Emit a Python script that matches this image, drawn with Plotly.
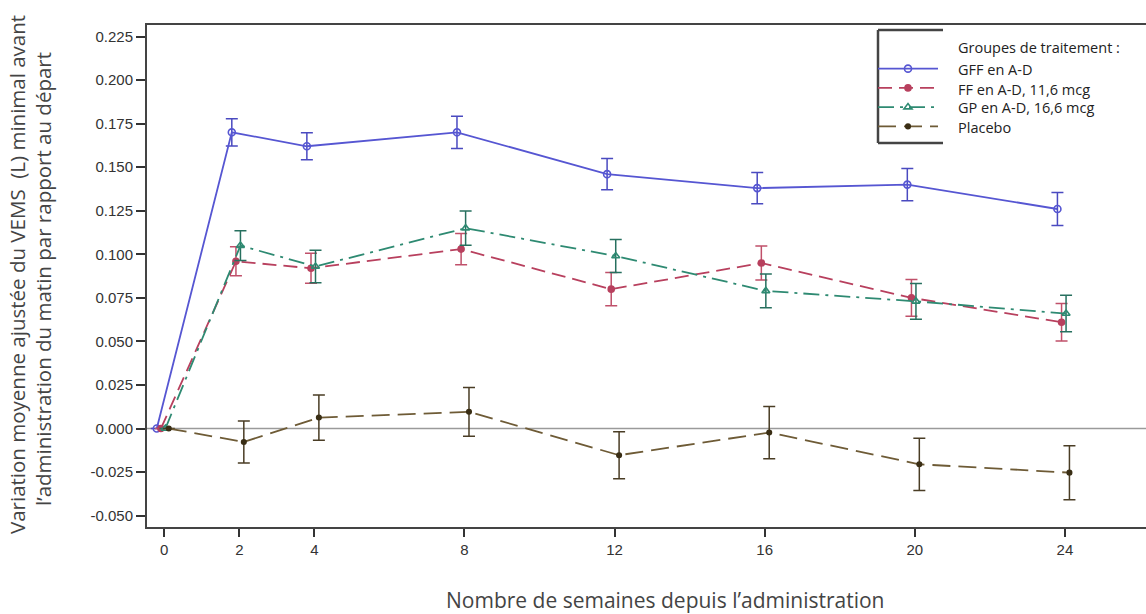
import plotly.graph_objects as go

# ---------------- data ----------------
weeks = [0, 2, 4, 8, 12, 16, 20, 24]
x_ticks = [0, 2, 4, 8, 12, 16, 20, 24]
y_ticks = [0.225, 0.200, 0.175, 0.150, 0.125, 0.100, 0.075, 0.050, 0.025, 0.000, -0.025, -0.050]

series_names = ["GFF en A-D", "FF en A-D, 11,6 mcg", "GP en A-D, 16,6 mcg", "Placebo"]
gff = [0.0, 0.170, 0.162, 0.170, 0.146, 0.138, 0.140, 0.126]
gff_err = [0.0, 0.0078, 0.0078, 0.0093, 0.0090, 0.0090, 0.0093, 0.0095]
ff = [0.0, 0.096, 0.092, 0.103, 0.080, 0.095, 0.075, 0.061]
ff_err = [0.0, 0.0083, 0.0086, 0.0090, 0.0095, 0.0097, 0.0105, 0.0107]
gp = [0.0, 0.105, 0.093, 0.115, 0.099, 0.079, 0.073, 0.066]
gp_err = [0.0, 0.0085, 0.0093, 0.0098, 0.0095, 0.0097, 0.0103, 0.0105]
placebo = [0.0, -0.0077, 0.0063, 0.0096, -0.0153, -0.0023, -0.0205, -0.0253]
placebo_err = [0.0, 0.0120, 0.0130, 0.0140, 0.0135, 0.0150, 0.0150, 0.0155]

legend_title = "Groupes de traitement :"
x_title = "Nombre de semaines depuis l\u2019administration"
y_title_1 = "Variation moyenne ajustée du VEMS  (L) minimal avant"
y_title_2 = "l\u2019administration du matin par rapport au départ"

# ---------------- layout geometry (pixels) ----------------
W, H = 1146, 614
L, R, T, B = 147, 0, 25, 87
PW, PH = W - L - R, H - T - B


def px(xp):
    return (xp - L) / PW


def py(yp):
    return (H - B - yp) / PH


styles = [
    dict(name=series_names[0], y=gff, e=gff_err, off=-0.20, color="#5656d2", ecolor="#4a4ac0",
         dash="solid", symbol="circle-open", size=7),
    dict(name=series_names[1], y=ff, e=ff_err, off=-0.09, color="#b8405e", ecolor="#c0506a",
         dash="14px,7px", symbol="circle", size=6),
    dict(name=series_names[2], y=gp, e=gp_err, off=0.03, color="#2e8a72", ecolor="#27705f",
         dash="16px,6px,3px,6px", symbol="triangle-up-open", size=7),
    dict(name=series_names[3], y=placebo, e=placebo_err, off=0.12, color="#6e5b36", ecolor="#4a3d25",
         dash="18px,8px", symbol="circle", size=4.5, mcolor="#3a2e15"),
]

fig = go.Figure()

for s in styles:
    mcol = s.get("mcolor", s["color"])
    fig.add_trace(go.Scatter(
        x=[w + s["off"] for w in weeks],
        y=s["y"],
        name="\u00a0",  # label is drawn as an annotation next to the legend sample
        hovertext=s["name"],
        mode="lines+markers",
        line=dict(color=s["color"], width=1.8, dash=s["dash"]),
        marker=dict(color=mcol, symbol=s["symbol"], size=s["size"],
                    line=dict(color=mcol, width=1.6)),
        error_y=dict(type="data", array=s["e"], visible=True, color=s["ecolor"],
                     thickness=1.5, width=6),
    ))

axis_font = dict(family="Liberation Sans, Arial, sans-serif", size=15, color="#333333")
legend_font = dict(family="Open Sans, sans-serif", size=14.5, color="#222222")

fig.update_layout(
    width=W, height=H,
    margin=dict(l=L, r=R, t=T, b=B),
    paper_bgcolor="white", plot_bgcolor="white",
    showlegend=True,
    legend=dict(
        x=px(873), y=py(54), xanchor="left", yanchor="top",
        bgcolor="rgba(0,0,0,0)", borderwidth=0,
        font=dict(family="Open Sans, sans-serif", size=12.5, color="#222222"),
        itemwidth=60, tracegroupgap=0,
    ),
    xaxis=dict(
        range=[-0.46, 26.16], tickmode="array", tickvals=x_ticks,
        ticktext=[str(v) for v in x_ticks],
        showgrid=False, zeroline=False, showline=True, linecolor="#444444", linewidth=2,
        mirror=True, ticks="outside", ticklen=8, tickwidth=1.5, tickcolor="#333333",
        tickfont=axis_font,
    ),
    yaxis=dict(
        range=[-0.0565, 0.2316], tickmode="array", tickvals=y_ticks,
        ticktext=[f"{v:.3f}" for v in y_ticks],
        showgrid=False, zeroline=False, showline=True, linecolor="#444444", linewidth=2,
        ticks="outside", ticklen=9, tickwidth=1.5, tickcolor="#333333",
        tickfont=axis_font,
    ),
)

# zero reference line
fig.add_shape(type="line", xref="paper", yref="y", x0=0, x1=1, y0=0, y1=0,
              line=dict(color="#9a9a9a", width=1.5), layer="below")

# legend bracket frame
frame = dict(color="#444444", width=2.5)
fig.add_shape(type="line", xref="paper", yref="paper", x0=px(878), x1=px(878), y0=py(30), y1=py(143), line=frame)
fig.add_shape(type="line", xref="paper", yref="paper", x0=px(878), x1=px(943), y0=py(30), y1=py(30), line=frame)
fig.add_shape(type="line", xref="paper", yref="paper", x0=px(878), x1=px(943), y0=py(143), y1=py(143), line=frame)

# legend title and entry labels
legend_rows_y = [48, 69, 89, 108, 127]
for label, yrow in zip([legend_title] + series_names, legend_rows_y):
    fig.add_annotation(text=label, xref="paper", yref="paper", x=px(956), y=py(yrow),
                       xanchor="left", yanchor="middle", showarrow=False, font=legend_font)

# axis titles
fig.add_annotation(text=x_title, xref="paper", yref="paper", x=px(665), y=py(600),
                   xanchor="center", yanchor="middle", showarrow=False,
                   font=dict(family="Open Sans, sans-serif", size=21, color="#444444"))
ytf = dict(family="Open Sans, sans-serif", size=20.5, color="#444444")
fig.add_annotation(text=y_title_1, xref="paper", yref="paper", x=px(17), y=py(275),
                   xanchor="center", yanchor="middle", textangle=-90, showarrow=False, font=ytf)
fig.add_annotation(text=y_title_2, xref="paper", yref="paper", x=px(43), y=py(279),
                   xanchor="center", yanchor="middle", textangle=-90, showarrow=False, font=ytf)

fig.write_html("out.html")
